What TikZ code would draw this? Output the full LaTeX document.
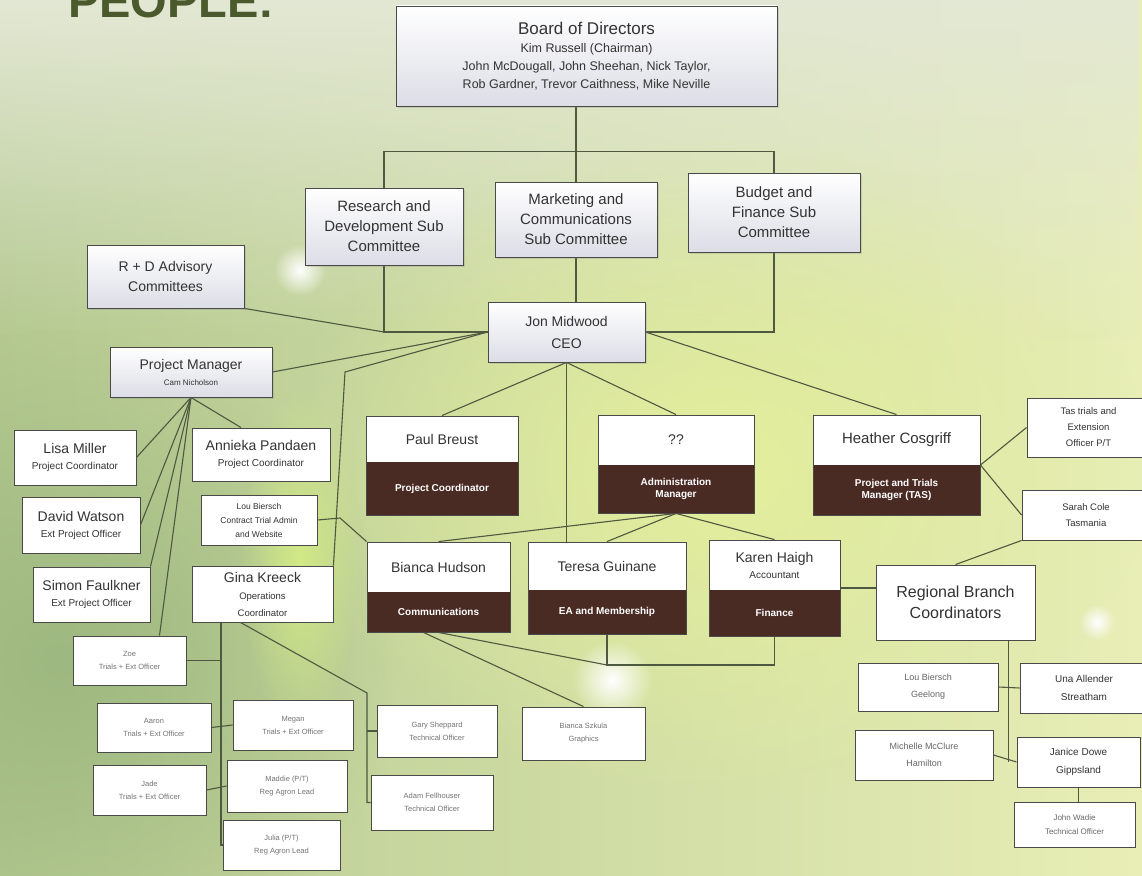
\documentclass[tikz,border=0pt]{standalone}
\usepackage{fontspec}
\setmainfont{Liberation Sans}
\usetikzlibrary{calc,fadings,shadows}
\definecolor{lnc}{HTML}{4F5840}
\definecolor{bdc}{HTML}{4A4A4A}
\definecolor{txc}{HTML}{333333}
\definecolor{dkb}{HTML}{4A2B24}
\definecolor{bgL}{HTML}{B4C990}
\definecolor{bgR}{HTML}{E8EEB6}
\definecolor{bgT}{HTML}{E3E8D4}
\definecolor{bgG}{HTML}{9DB880}
\definecolor{bgY}{HTML}{E4EF9C}
\definecolor{bgLeaf}{HTML}{D2EA86}
\definecolor{grayfill}{HTML}{DCDDE6}
\definecolor{ttl}{HTML}{4B5A2C}
\tikzfading[name=glow, inner color=transparent!0, outer color=transparent!100]
\pgfdeclarelayer{bg}
\pgfdeclarelayer{lines}
\pgfsetlayers{bg,lines,main}
\newcommand{\fz}[2]{\fontsize{#1}{#2}\selectfont}
\newcommand{\bx}[7][]{\node[box,#1,minimum width={(#5-#3)*1pt},minimum height={(#6-#4)*1pt}] (#2) at ({(#3+#5)/2},{(#4+#6)/2}) {#7};}
\newcommand{\sbx}[8]{%
 \node[box,minimum width={(#4-#2)*1pt},minimum height={(#5-#3)*1pt}] (#1) at ({(#2+#4)/2},{(#3+#5)/2}) {};
 \fill[dkb] (#2,#6) rectangle (#4,#5);
 \draw[bdc,line width=0.9pt] (#2,#3) rectangle (#4,#5);
 \node[toptxt] at ({(#2+#4)/2},{(#3+#6)/2}) {#7};
 \node[bottxt] at ({(#2+#4)/2},{(#6+#5)/2}) {#8};}
\begin{document}
\begin{tikzpicture}[x=1pt,y=-1pt,
 box/.style={draw=bdc, line width=0.9pt, fill=white, text=txc, align=center, inner sep=0pt, font=\fz{14}{16}},
 gbox/.style={box, top color=white, bottom color=grayfill, drop shadow={opacity=0.25, shadow xshift=2pt, shadow yshift=-2pt}},
 sm/.style={font=\fz{7.5}{13}, text=black!55},
 conn/.style={draw=lnc, line width=1.1pt},
 toptxt/.style={text=txc, align=center, inner sep=0pt, font=\fz{14}{16}},
 bottxt/.style={text=white, align=center, inner sep=0pt, font=\bfseries\fz{10}{12}}]
\useasboundingbox (0,0) rectangle (1142,875);
\begin{pgfonlayer}{bg}
 \shade[left color=bgL, right color=bgR] (0,0) rectangle (1142,875);
 \fill[bgT, path fading=south] (0,0) rectangle (1142,340);
 \fill[bgY, path fading=glow] (720,470) ellipse (430pt and 330pt);
 \fill[bgG, path fading=glow] (60,660) ellipse (340pt and 330pt);
 \fill[bgLeaf, path fading=glow] (300,560) ellipse (60pt and 170pt);
 \fill[white, path fading=glow] (300,270) circle (26pt);
 \fill[white, path fading=glow] (612,680) circle (40pt);
 \fill[white, path fading=glow] (1097,622) circle (18pt);
 \fill[white, path fading=glow, opacity=0.6] (1120,760) circle (22pt);
\end{pgfonlayer}
\node[anchor=base west, font=\bfseries\fz{47}{50}, text=ttl, inner sep=0pt] (title) at (68,18) {PEOPLE:};
% top
\bx[gbox,font=\fz{12.5}{18}]{board}{396}{6}{777}{106}{{\fz{17}{20}Board of Directors}\\Kim Russell (Chairman)\\John McDougall, John Sheehan, Nick Taylor,\\Rob Gardner, Trevor Caithness, Mike Neville}
\bx[gbox,font=\fz{15}{20}]{rd}{305}{188}{463}{265}{Research and\\Development Sub\\Committee}
\bx[gbox,font=\fz{15}{20}]{mkt}{495}{182}{657}{257}{Marketing and\\Communications\\Sub Committee}
\bx[gbox,font=\fz{15}{20}]{bud}{688}{173}{860}{252}{Budget and\\Finance Sub\\Committee}
\bx[gbox,font=\fz{14}{20}]{adv}{87}{245}{244}{308}{R + D Advisory\\Committees}
\bx[gbox,font=\fz{14}{22}]{ceo}{488}{302}{645}{362}{Jon Midwood\\CEO}
\bx[gbox]{pm}{110}{347}{272}{397}{Project Manager\\{\fz{8}{12}Cam Nicholson}}
% left
\bx{lisa}{14}{430}{136}{485}{Lisa Miller\\{\fz{10}{14}Project Coordinator}}
\bx{david}{22}{497}{140}{553}{David Watson\\{\fz{10}{14}Ext Project Officer}}
\bx{simon}{33}{567}{150}{622}{Simon Faulkner\\{\fz{10}{14}Ext Project Officer}}
\bx{ann}{192}{428}{330}{481}{Annieka Pandaen\\{\fz{10}{14}Project Coordinator}}
\bx[font=\fz{8.5}{14}]{lou}{201}{495}{317}{545}{Lou Biersch\\Contract Trial Admin\\and Website}
\bx[font=\fz{14}{17}]{gina}{192}{566}{333}{622}{Gina Kreeck\\{\fz{9.5}{15}Operations}\\{\fz{9.5}{12}Coordinator}}
% middle split boxes
\sbx{paul}{366}{416}{518}{515}{462}{Paul Breust}{Project Coordinator}
\sbx{qq}{598}{415}{754}{513}{465}{??}{Administration\\Manager}
\sbx{heather}{813}{415}{980}{515}{465}{{\fz{15}{17}Heather Cosgriff}}{Project and Trials\\Manager (TAS)}
\sbx{bianca}{367}{542}{510}{632}{592}{Bianca Hudson}{Communications}
\sbx{teresa}{528}{542}{686}{634}{590}{Teresa Guinane}{EA and Membership}
\sbx{karen}{709}{540}{840}{636}{590}{Karen Haigh\\{\fz{10}{12}Accountant}}{Finance}
% right
\bx[font=\fz{16}{21}]{reg}{876}{565}{1035}{640}{Regional Branch\\Coordinators}
\bx[font=\fz{9.5}{16}]{tas}{1027}{398}{1150}{457}{Tas trials and\\Extension\\Officer P/T}
\bx[font=\fz{9.5}{16}]{sarah}{1022}{490}{1150}{540}{Sarah Cole\\Tasmania}
\bx[font=\fz{9}{17}, text=black!60]{lou2}{858}{663}{998}{711}{Lou Biersch\\Geelong}
\bx[font=\fz{10}{18}]{una}{1020}{663}{1148}{713}{Una Allender\\Streatham}
\bx[font=\fz{9}{17}, text=black!60]{mich}{855}{730}{993}{780}{Michelle McClure\\Hamilton}
\bx[font=\fz{10}{18}]{jan}{1017}{737}{1140}{787}{Janice Dowe\\Gippsland}
\bx[font=\fz{8}{14}, text=black!60]{wadie}{1014}{802}{1135}{847}{John Wadie\\Technical Officer}
% bottom left
\bx[sm]{zoe}{73}{636}{186}{685}{Zoe\\Trials + Ext Officer}
\bx[sm]{aaron}{97}{703}{211}{752}{Aaron\\Trials + Ext Officer}
\bx[sm]{megan}{233}{700}{353}{750}{Megan\\Trials + Ext Officer}
\bx[sm]{jade}{93}{765}{206}{815}{Jade\\Trials + Ext Officer}
\bx[sm]{maddie}{227}{760}{347}{812}{Maddie (P/T)\\Reg Agron Lead}
\bx[sm]{julia}{223}{820}{340}{870}{Julia (P/T)\\Reg Agron Lead}
\bx[sm]{gary}{377}{705}{497}{757}{Gary Sheppard\\Technical Officer}
\bx[sm]{adam}{371}{775}{493}{830}{Adam Fellhouser\\Technical Officer}
\bx[sm]{graph}{522}{707}{645}{760}{Bianca Szkula\\Graphics}
% connectors
\begin{pgfonlayer}{lines}
\draw[conn] (board.south -| mkt.north) -- (mkt.north);
\draw[conn] (rd.north) -- ++(0,-36) -| (bud.north);
\draw[conn] (rd.south) |- (ceo.west);
\draw[conn] (adv.south east) -- (rd.south |- ceo.west);
\draw[conn] (mkt.south) -- (mkt.south |- ceo.north);
\draw[conn] (bud.south) |- (ceo.east);
\draw[conn] (pm.east) -- (ceo.west);
\coordinate (cj) at (345,372);
\draw[conn] (ceo.west) -- (cj) -- (gina.north east);
\draw[conn] (ceo.south) -- (paul.north);
\draw[conn] (ceo.south) -- (qq.north);
\draw[conn] (ceo.south) -- (ceo.south |- teresa.north);
\draw[conn] (ceo.east) -- (heather.north);
\draw[conn] (qq.south) -- (bianca.north);
\draw[conn] (qq.south) -- (teresa.north);
\draw[conn] (qq.south) -- (karen.north);
\draw[conn] (heather.east) -- (tas.west);
\draw[conn] (heather.east) -- (sarah.west);
\draw[conn] (sarah.south west) -- (reg.north);
\draw[conn] (karen.east) -- (karen.east -| reg.west);
\coordinate (rv) at ([xshift=53]reg.south);
\draw[conn] (rv) -- (rv |- jan.west);
\draw[conn] (lou2.east) -- (una.west);
\draw[conn] (mich.east) -- (jan.west);
\draw[conn] (jan.south) -- (jan.south |- wadie.north);
\draw[conn] (pm.south) -- (lisa.east);
\draw[conn] (pm.south) -- (david.east);
\draw[conn] (pm.south) -- (simon.north east);
\draw[conn] (pm.south) -- ([xshift=30]zoe.north);
\draw[conn] (pm.south) -- ([xshift=-20]ann.north);
\coordinate (lj) at (340,518);
\draw[conn] (lou.east) -- (lj) -- (bianca.north west);
\coordinate (gv) at (221,622);
\draw[conn] (gv) -- (gv |- julia.west) -- (julia.west);
\draw[conn] (zoe.east) -- (zoe.east -| gv);
\draw[conn] (aaron.east) -- (megan.west);
\draw[conn] (jade.east) -- (maddie.west);
\coordinate (tj) at (367,693);
\draw[conn] ([xshift=-22]gina.south) -- (tj) -- (tj |- adam.west) -- (adam.west);
\draw[conn] (tj |- gary.west) -- (gary.west);
\coordinate (tk) at (607,665);
\draw[conn] (teresa.south) -- (tk) -| (karen.south);
\draw[conn] (bianca.south) -- (tk);
\draw[conn] ([xshift=-15]bianca.south) -- (graph.north);
\end{pgfonlayer}
\end{tikzpicture}
\end{document}
